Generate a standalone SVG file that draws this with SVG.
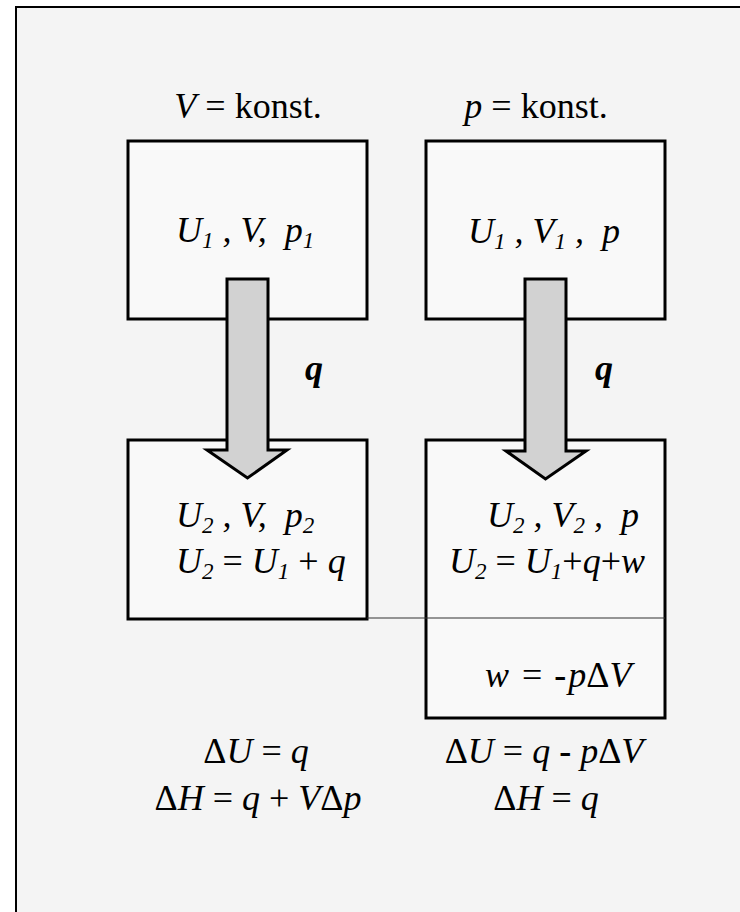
<svg xmlns="http://www.w3.org/2000/svg" width="740" height="912" viewBox="0 0 740 912" font-family="'Liberation Serif', 'DejaVu Serif', 'Times New Roman', serif">
<style>
.frame{fill:#f4f4f4;stroke:#000;stroke-width:2}
.box{fill:#f9f9f9;stroke:#000;stroke-width:3}
.arrow{fill:#d2d2d2;stroke:#000;stroke-width:3;stroke-linejoin:miter}
text{font-family:'Liberation Serif','DejaVu Serif','Times New Roman',serif;font-size:36px;fill:#000;white-space:pre}
.i{font-style:italic}
.up{font-style:normal}
.sub{font-size:23px;font-style:italic}
.q{font-style:italic;font-weight:bold}
.b{font-weight:bold;font-style:normal}
.divider{stroke:#333;stroke-width:1.2}
</style>
<rect class="frame" x="16" y="7" width="760" height="920"/>
<text x="248" y="118" text-anchor="middle"><tspan class="i">V</tspan> = konst.</text>
<text x="536" y="118" text-anchor="middle"><tspan class="i">p</tspan> = konst.</text>
<g id="box1">
<rect class="box" x="128" y="141" width="239" height="178"/>
<text class="i" x="176" y="242" xml:space="preserve">U<tspan class="sub" dy="6">1</tspan><tspan dy="-6"> , V,  p</tspan><tspan class="sub" dy="6">1</tspan></text>
</g>
<g id="box2">
<rect class="box" x="426" y="141" width="239" height="178"/>
<text class="i" x="468" y="243" xml:space="preserve">U<tspan class="sub" dy="6">1</tspan><tspan dy="-6"> , V</tspan><tspan class="sub" dy="6">1</tspan><tspan dy="-6"> ,  p</tspan></text>
</g>
<g id="box3">
<rect class="box" x="128" y="440" width="239" height="179"/>
<text class="i" x="176" y="527" xml:space="preserve">U<tspan class="sub" dy="6">2</tspan><tspan dy="-6"> , V,  p</tspan><tspan class="sub" dy="6">2</tspan></text>
<text class="i" x="176" y="573" xml:space="preserve">U<tspan class="sub" dy="6">2</tspan><tspan dy="-6" class="up"> = </tspan><tspan>U</tspan><tspan class="sub" dy="6">1</tspan><tspan dy="-6" class="up"> + </tspan><tspan>q</tspan></text>
</g>
<g id="box4">
<rect class="box" x="426" y="440" width="239" height="278"/>
<text class="i" x="487" y="527" xml:space="preserve">U<tspan class="sub" dy="6">2</tspan><tspan dy="-6"> , V</tspan><tspan class="sub" dy="6">2</tspan><tspan dy="-6"> ,  p</tspan></text>
<text class="i" x="449" y="573" xml:space="preserve">U<tspan class="sub" dy="6">2</tspan><tspan dy="-6" class="up"> = </tspan><tspan>U</tspan><tspan class="sub" dy="6">1</tspan><tspan dy="-6" class="up">+</tspan><tspan>q</tspan><tspan class="up">+</tspan><tspan>w</tspan></text>
<text class="i" x="485" y="687" xml:space="preserve">w<tspan class="up" dx="4"> = </tspan><tspan class="b" dx="3">-</tspan><tspan dx="2">p</tspan><tspan class="up">Δ</tspan>V</text>
</g>
<g id="divider">
<line class="divider" x1="367" y1="618" x2="665" y2="618"/>
</g>
<g id="connectors">
<polygon class="arrow" points="227,279 268,279 268,450 287,450 247.5,478 207,450 227,450"/>
<polygon class="arrow" points="525,279 566,279 566,451 586,451 545.5,479 506,451 525,451"/>
<text class="q" x="305" y="380">q</text>
<text class="q" x="595" y="380">q</text>
</g>
<g id="results-left">
<text class="i" x="256" y="763" text-anchor="middle" xml:space="preserve"><tspan class="up">Δ</tspan>U<tspan class="up"> = </tspan>q</text>
<text class="i" x="258" y="810" text-anchor="middle" xml:space="preserve"><tspan class="up">Δ</tspan>H<tspan class="up"> = </tspan>q<tspan class="up"> + </tspan>V<tspan class="up">Δ</tspan>p</text>
</g>
<g id="results-right">
<text class="i" x="544" y="763" text-anchor="middle" xml:space="preserve"><tspan class="up">Δ</tspan>U<tspan class="up"> = </tspan>q <tspan class="b">-</tspan> p<tspan class="up">Δ</tspan>V</text>
<text class="i" x="546" y="810" text-anchor="middle" xml:space="preserve"><tspan class="up">Δ</tspan>H<tspan class="up"> = </tspan>q</text>
</g>
</svg>
